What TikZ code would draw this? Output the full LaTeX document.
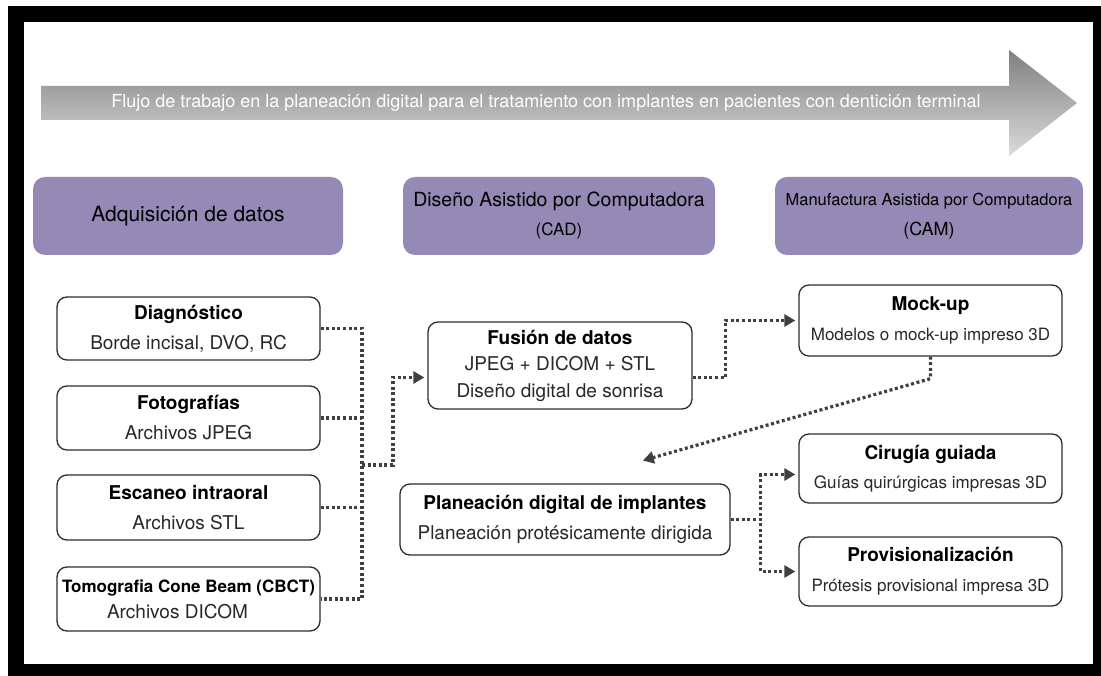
\documentclass[tikz,border=0pt]{standalone}
\usepackage{fontspec}
\setmainfont{TeX Gyre Heros}
\usetikzlibrary{arrows.meta}
\definecolor{hdrpurple}{RGB}{149,137,181}
\definecolor{linkgray}{RGB}{64,64,64}
\definecolor{subgray}{RGB}{40,40,40}
\definecolor{framegray}{RGB}{45,45,45}

\begin{document}
\begin{tikzpicture}[x=1pt, y=-1pt,
  phase/.style={rectangle, rounded corners=12pt, fill=hdrpurple, minimum height=78pt, align=center, inner sep=0pt},
  stepbox/.style={rectangle, draw=framegray, line width=1.3pt, rounded corners=10pt, fill=white, minimum width=263pt, align=center, inner sep=0pt, font=\fontsize{19}{30}\selectfont},
  bus/.style={draw=linkgray, line width=3.2pt, dash pattern=on 3pt off 2.6pt},
  link/.style={bus, -{Triangle[length=11pt,width=12pt]}, shorten >=3pt}
]
\useasboundingbox (0,0) rectangle (1101,676);

% Frame
\fill[black] (8,6) rectangle (1101,676);
\fill[white] (24,22) rectangle (1093,664);

% Workflow arrow
\shade[top color=black!50, bottom color=black!14] (41,86) -- (1009,86) -- (1009,50) -- (1077,103) -- (1009,156) -- (1009,120) -- (41,120) -- cycle;
\node[text=white, font=\fontsize{18}{20}\selectfont] (flowtxt) at (546,103) {Flujo de trabajo en la planeación digital para el tratamiento con implantes en pacientes con dentición terminal};

% Phase headers
\node[phase, minimum width=310pt, font=\fontsize{21}{26}\selectfont] (hdat) at (188,216) {Adquisición de datos};
\node[phase, minimum width=312pt, font=\fontsize{19.5}{29}\selectfont] (hcad) at (559,216) {Diseño Asistido por Computadora\\{\fontsize{17}{29}\selectfont (CAD)}};
\node[phase, minimum width=308pt, font=\fontsize{16.5}{30}\selectfont] (hcam) at (929,216) {Manufactura Asistida por Computadora\\{\fontsize{18}{30}\selectfont (CAM)}};

% Data acquisition
\node[stepbox, minimum height=63pt] (diag) at (188.5,328.5) {{\bfseries Diagnóstico}\\\textcolor{subgray}{Borde incisal, DVO, RC}};
\node[stepbox, minimum height=64pt] (foto) at (188.5,418) {{\bfseries Fotografías}\\\textcolor{subgray}{Archivos JPEG}};
\node[stepbox, minimum height=65pt] (esca) at (188.5,507.5) {{\bfseries Escaneo intraoral}\\\textcolor{subgray}{Archivos STL}};
\node[stepbox, minimum height=64pt, font=\fontsize{19}{26}\selectfont] (tomo) at (188.5,599) {{\fontsize{17}{26}\selectfont\bfseries Tomografia Cone Beam (CBCT)}\\\textcolor{subgray}{Archivos DICOM}\hspace*{22pt}};

% CAD
\node[stepbox, minimum width=264pt, minimum height=87pt, font=\fontsize{19}{26.5}\selectfont] (fusion) at (560,365.5) {{\bfseries Fusión de datos}\\\textcolor{subgray}{JPEG + DICOM + STL}\\\textcolor{subgray}{Diseño digital de sonrisa}};
\node[stepbox, minimum width=330pt, minimum height=71pt] (plan) at (565,519.5) {{\bfseries Planeación digital de implantes}\\\textcolor{subgray}{Planeación protésicamente dirigida}};

% CAM
\node[stepbox, minimum height=71pt] (mockup) at (930.5,320.5) {{\bfseries Mock-up}\\\textcolor{subgray}{\fontsize{17}{30}\selectfont Modelos o mock-up impreso 3D}};
\node[stepbox, minimum height=69pt, font=\fontsize{19}{29}\selectfont] (cir) at (930.5,468.5) {{\bfseries Cirugía guiada}\\\textcolor{subgray}{\fontsize{17}{29}\selectfont Guías quirúrgicas impresas 3D}};
\node[stepbox, minimum height=69pt] (prov) at (930.5,571.5) {{\bfseries Provisionalización}\\\textcolor{subgray}{\fontsize{17}{30}\selectfont Prótesis provisional impresa 3D}};

% Connectors
\coordinate (busL) at (362,465);
\coordinate (busR) at (393,465);
\draw[bus] (diag.east) -- (diag.east -| busL) -- (tomo.east -| busL) -- (tomo.east);
\draw[bus] (foto.east) -- (foto.east -| busL);
\draw[bus] (esca.east) -- (esca.east -| busL);
\draw[link] (busL) -- (busR) |- ([yshift=-12pt]fusion.west);
\draw[link] ([yshift=-12pt]fusion.east) -- ++(33,0) |- (mockup.west);
\draw[link] (mockup.south) -- ++(0,22) -- ([shift={(75pt,22pt)}]plan.north);
\draw[link] (plan.east) -- ++(30,0) |- ([yshift=-6pt]cir.west);
\draw[link] (plan.east) -- ++(30,0) |- (prov.west);

\end{tikzpicture}
\end{document}
